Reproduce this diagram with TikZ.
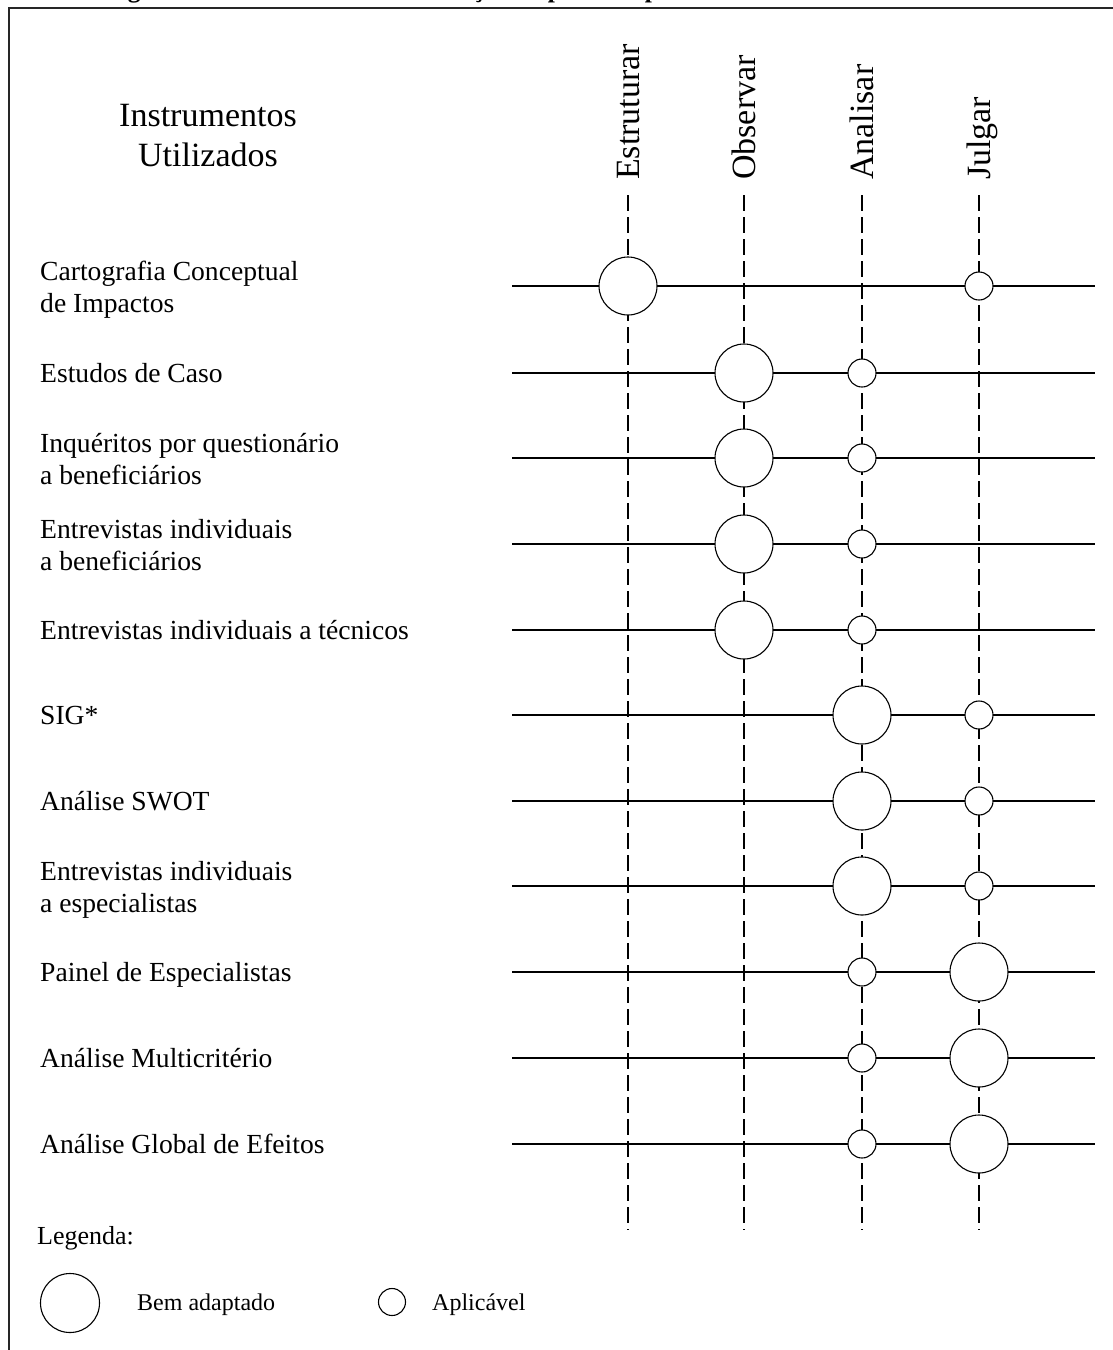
\documentclass[tikz,border=0pt]{standalone}
\usepackage{fontspec}
\setmainfont{Liberation Serif}
\begin{document}
\begin{tikzpicture}[x=1pt,y=-1pt,
  frameline/.style={line width=2pt,draw=black!85},
  rowline/.style={line width=1.3pt},
  colline/.style={line width=1.2pt,dash pattern=on 16pt off 6pt},
  bigdot/.style={circle,draw,fill=white,line width=1.1pt,minimum size=58pt,inner sep=0pt},
  smalldot/.style={circle,draw,fill=white,line width=1.1pt,minimum size=28pt,inner sep=0pt},
  lbl/.style={anchor=base west,inner sep=0pt,font=\fontsize{27.6}{32}\selectfont},
  hdr/.style={inner sep=0pt,font=\fontsize{34}{40}\selectfont},
  colhdr/.style={hdr,rotate=90,anchor=base west},
  legtxt/.style={anchor=base west,inner sep=0pt,font=\fontsize{24}{28}\selectfont}]
\useasboundingbox (0,0) rectangle (1113,1350);

% caption above the frame
\node[anchor=base west,inner sep=0pt,font=\bfseries\fontsize{25.5}{30}\selectfont] (title) at (105,-3)
  {Figura 3 – Instrumentos de avaliação de políticas públicas utilizados neste estudo};

% frame
\coordinate (fbl) at (9,1360);
\coordinate (ftl) at (9,8);
\coordinate (ftr) at (1125,8);
\draw[frameline] (fbl) -- (ftl) -- (ftr);

% heading of the instrument list
\node[hdr,anchor=base] (h1) at (208,126) {Instrumentos};
\node[hdr,anchor=base] (h2) at (208,166) {Utilizados};

% stage columns
\foreach \name/\x/\txt in {E/628/Estruturar,O/744/Observar,A/862/Analisar,J/979/Julgar}{
  \node[colhdr] (t\name) at (\x+11,180) {\txt};
  \coordinate (top\name) at (\x,195);
  \coordinate (bot\name) at (\x,1230);
  \draw[colline] (top\name) -- (bot\name);
}

% instrument rows
\foreach \i/\y in {1/286,2/373,3/458,4/544,5/630,6/715,7/801,8/886,9/972,10/1058,11/1144}{
  \coordinate (L\i) at (512,\y);
  \coordinate (R\i) at (1095,\y);
  \draw[rowline] (L\i) -- (R\i);
}

% row labels
\node[lbl] (r1a) at (40,280) {Cartografia Conceptual};
\node[lbl] (r1b) at (40,312) {de Impactos};
\node[lbl] (r2)  at (40,382) {Estudos de Caso};
\node[lbl] (r3a) at (40,452) {Inquéritos por questionário};
\node[lbl] (r3b) at (40,484) {a beneficiários};
\node[lbl] (r4a) at (40,538) {Entrevistas individuais};
\node[lbl] (r4b) at (40,570) {a beneficiários};
\node[lbl] (r5)  at (40,639) {Entrevistas individuais a técnicos};
\node[lbl] (r6)  at (40,724) {SIG*};
\node[lbl] (r7)  at (40,810) {Análise SWOT};
\node[lbl] (r8a) at (40,880) {Entrevistas individuais};
\node[lbl] (r8b) at (40,912) {a especialistas};
\node[lbl] (r9)  at (40,981) {Painel de Especialistas};
\node[lbl] (r10) at (40,1067) {Análise Multicritério};
\node[lbl] (r11) at (40,1153) {Análise Global de Efeitos};

% suitability marks
\node[bigdot]   (m1E)  at (628,286) {};
\node[smalldot] (m1J)  at (979,286) {};
\node[bigdot]   (m2O)  at (744,373) {};
\node[smalldot] (m2A)  at (862,373) {};
\node[bigdot]   (m3O)  at (744,458) {};
\node[smalldot] (m3A)  at (862,458) {};
\node[bigdot]   (m4O)  at (744,544) {};
\node[smalldot] (m4A)  at (862,544) {};
\node[bigdot]   (m5O)  at (744,630) {};
\node[smalldot] (m5A)  at (862,630) {};
\node[bigdot]   (m6A)  at (862,715) {};
\node[smalldot] (m6J)  at (979,715) {};
\node[bigdot]   (m7A)  at (862,801) {};
\node[smalldot] (m7J)  at (979,801) {};
\node[bigdot]   (m8A)  at (862,886) {};
\node[smalldot] (m8J)  at (979,886) {};
\node[smalldot] (m9A)  at (862,972) {};
\node[bigdot]   (m9J)  at (979,972) {};
\node[smalldot] (m10A) at (862,1058) {};
\node[bigdot]   (m10J) at (979,1058) {};
\node[smalldot] (m11A) at (862,1144) {};
\node[bigdot]   (m11J) at (979,1144) {};

% legend
\node[anchor=base west,inner sep=0pt,font=\fontsize{26}{30}\selectfont] (leg) at (37,1244) {Legenda:};
\node[bigdot,minimum size=59pt] (kbig) at (70,1303) {};
\node[legtxt] (kbigt) at (137,1310) {Bem adaptado};
\node[smalldot,minimum size=27pt] (ksmall) at (392,1302) {};
\node[legtxt] (ksmallt) at (432,1310) {Aplicável};
\end{tikzpicture}
\end{document}
